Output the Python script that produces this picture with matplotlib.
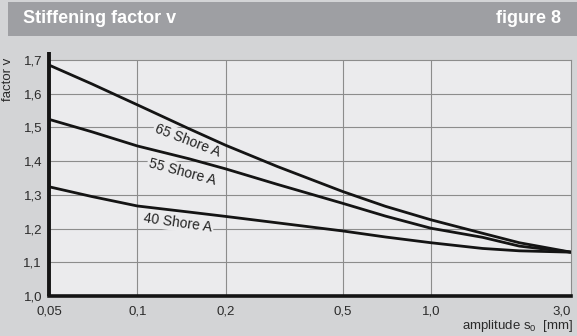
import matplotlib
matplotlib.use('Agg')
import matplotlib.pyplot as plt
from matplotlib.patches import Rectangle
from matplotlib.ticker import FixedLocator, NullLocator

# amplitude s0 [mm]
amplitude = [0.05, 0.07, 0.1, 0.15, 0.2, 0.3, 0.5, 0.7, 1.0, 1.5, 2.0, 3.0]

# stiffening factor v per hardness
shore_65 = [1.685, 1.629, 1.567, 1.496, 1.447, 1.384, 1.310, 1.266, 1.226, 1.186, 1.158, 1.130]
shore_55 = [1.524, 1.487, 1.445, 1.407, 1.377, 1.331, 1.275, 1.237, 1.201, 1.174, 1.148, 1.130]
shore_40 = [1.324, 1.295, 1.267, 1.249, 1.236, 1.217, 1.193, 1.175, 1.158, 1.141, 1.134, 1.130]

labels = ['65 Shore A', '55 Shore A', '40 Shore A']
label_pos = [(0.148, 1.462, -21), (0.142, 1.369, -15), (0.1375, 1.217, -8)]

x_ticks = [0.05, 0.1, 0.2, 0.5, 1.0, 3.0]
x_ticklabels = ['0,05', '0,1', '0,2', '0,5', '1,0', '3,0']
y_ticks = [1.0, 1.1, 1.2, 1.3, 1.4, 1.5, 1.6, 1.7]
y_ticklabels = ['1,0', '1,1', '1,2', '1,3', '1,4', '1,5', '1,6', '1,7']

bg = '#d3d4d6'
face = '#ebebed'
grid_col = '#8c8c8c'

plt.rcParams['font.family'] = ['Liberation Sans', 'DejaVu Sans']

fig = plt.figure(figsize=(5.77, 3.36), dpi=100, facecolor=bg)

# title banner
fig.patches.append(Rectangle((8 / 577, 1 - 36 / 336), 1 - 8 / 577, 34 / 336,
                             transform=fig.transFigure, facecolor='#9e9fa3',
                             edgecolor='none', zorder=0))
fig.text(23 / 577, 1 - 18.5 / 336, 'Stiffening factor v', color='white',
         fontsize=13, fontweight='bold', va='center', ha='left')
fig.text(561 / 577, 1 - 18.5 / 336, 'figure 8', color='white',
         fontsize=13, fontweight='bold', va='center', ha='right')

ax = fig.add_axes([49 / 577, 1 - 296 / 336, 522 / 577, 236 / 336])
ax.set_facecolor(face)
ax.set_xscale('log')
ax.set_xlim(0.05, 3.0)
ax.set_ylim(1.0, 1.7)

for y in (shore_65, shore_55, shore_40):
    ax.plot(amplitude, y, color='#141414', linewidth=2.0, solid_capstyle='butt', zorder=4)

for text, (lx, ly, rot) in zip(labels, label_pos):
    ax.text(lx, ly, text, rotation=rot, ha='center', va='center', fontsize=10,
            color='#222222', rotation_mode='anchor', zorder=3,
            bbox=dict(boxstyle='square,pad=0.1', facecolor=face, edgecolor='none'))

# grid
for gx in x_ticks[1:-1]:
    ax.axvline(gx, color=grid_col, linewidth=0.8, zorder=1)
for gy in y_ticks[1:-1]:
    ax.axhline(gy, color=grid_col, linewidth=0.8, zorder=1)

ax.xaxis.set_major_locator(FixedLocator(x_ticks))
ax.xaxis.set_minor_locator(NullLocator())
ax.set_xticklabels(x_ticklabels)
ax.set_yticks(y_ticks)
ax.set_yticklabels(y_ticklabels)
ax.tick_params(axis='both', length=0, labelsize=9.5, colors='#2a2a2a')
ax.tick_params(axis='x', pad=7)
ax.tick_params(axis='y', pad=5)
ax.get_xticklabels()[-1].set_horizontalalignment('right')

ax.spines['top'].set_color(grid_col)
ax.spines['top'].set_linewidth(0.8)
ax.spines['right'].set_color(grid_col)
ax.spines['right'].set_linewidth(0.8)
ax.spines['bottom'].set_color('#141414')
ax.spines['bottom'].set_linewidth(2.6)
ax.spines['left'].set_visible(False)
ax.plot([0, 0], [0, 1.035], transform=ax.transAxes, color='#141414',
        linewidth=2.8, clip_on=False, zorder=6, solid_capstyle='butt')

fig.text(8 / 577, 1 - 58 / 336, 'factor v', rotation=90, fontsize=9.5,
         va='top', ha='center', color='#2a2a2a')
fig.text(573 / 577, 1 - 326 / 336, r'amplitude s$_\mathregular{0}$  [mm]', fontsize=9.5,
         va='center', ha='right', color='#2a2a2a')

fig.savefig('out.png', dpi=100, facecolor=bg)
